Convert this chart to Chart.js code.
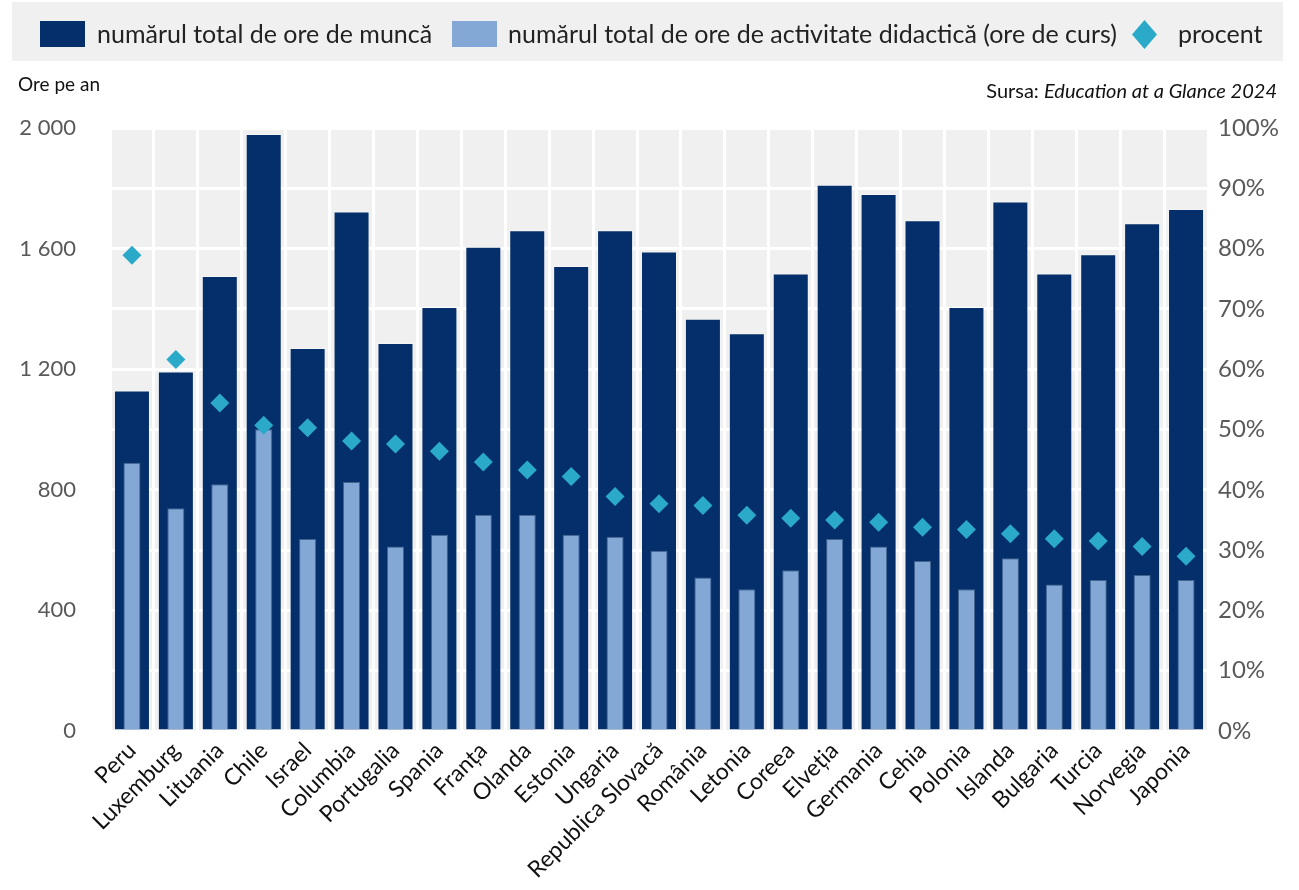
<!DOCTYPE html>
<html>
<head>
<meta charset="utf-8">
<script src="https://cdn.jsdelivr.net/npm/chart.js@4.4.1/dist/chart.umd.min.js"></script>
<style>
  html, body { margin: 0; padding: 0; background: #fff; }
  body { width: 1299px; height: 890px; position: relative; overflow: hidden; font-family: Lato, "Open Sans", sans-serif; }
  #legend { position: absolute; left: 12px; top: 2px; width: 1271px; height: 59px; background: #f0f0f0; }
  .sw { position: absolute; top: 19px; width: 45px; height: 26px; }
  .dia { position: absolute; top: 18px; width: 25px; height: 29px; clip-path: polygon(50% 0, 100% 50%, 50% 100%, 0 50%); }
  .txt { position: absolute; top: 0; height: 63px; line-height: 63px; font-size: 25px; color: #222; white-space: nowrap; }
  #unit { position: absolute; left: 18px; top: 72px; font-size: 19px; color: #111; }
  #src { position: absolute; right: 22px; top: 78px; font-size: 20px; color: #111; }
  #wrap { position: absolute; left: 0; top: 0; width: 1299px; height: 890px; }
</style>
</head>
<body>
<div id="wrap"><canvas id="c" width="1299" height="890"></canvas></div>
<div id="legend"></div>
<div id="unit">Ore pe an</div>
<div id="src">Sursa: <i>Education at a Glance 2024</i></div>
<script>
const categories = ["Peru","Luxemburg","Lituania","Chile","Israel","Columbia","Portugalia","Spania","Franța","Olanda","Estonia","Ungaria","Republica Slovacă","România","Letonia","Coreea","Elveția","Germania","Cehia","Polonia","Islanda","Bulgaria","Turcia","Norvegia","Japonia"];
const totalHours    = [1129,1192,1509,1980,1270,1723,1287,1406,1606,1661,1542,1661,1590,1367,1319,1517,1812,1781,1694,1406,1756,1517,1581,1684,1731];
const teachingHours = [890,739,818,1001,637,826,612,651,717,717,651,644,598,509,470,533,637,612,564,470,573,486,501,517,501];
const percentShare  = [78.9,61.6,54.4,50.7,50.3,48.1,47.6,46.4,44.6,43.3,42.2,38.9,37.7,37.4,35.8,35.3,35.0,34.6,33.8,33.4,32.7,31.9,31.5,30.6,29.0];
const seriesLabels  = ["numărul total de ore de muncă","numărul total de ore de activitate didactică (ore de curs)","procent"];
const leftTickStep = 400;

const C_DARK = "#042f6a", C_LIGHT = "#84a8d6", C_DIA = "#2aa9c9";

// HTML legend (positions relative to legend box, left offset 12)
const lg = document.getElementById("legend");
const legendItems = [
  { cls: "sw",  color: C_DARK,  markX: 40,   textX: 97 },
  { cls: "sw",  color: C_LIGHT, markX: 452,  textX: 508 },
  { cls: "dia", color: C_DIA,   markX: 1132, textX: 1178 }
];
legendItems.forEach((d, i) => {
  const m = document.createElement("div");
  m.className = d.cls; m.style.left = (d.markX - 12) + "px"; m.style.background = d.color;
  const t = document.createElement("div");
  t.className = "txt"; t.style.left = (d.textX - 12) + "px"; t.textContent = seriesLabels[i];
  lg.appendChild(m); lg.appendChild(t);
});

const bgPlugin = {
  id: "bg",
  beforeDraw(chart) {
    const {ctx, chartArea:a} = chart;
    ctx.save(); ctx.fillStyle = "#f0f0f0";
    ctx.fillRect(a.left, a.top, a.right - a.left, a.bottom - a.top);
    ctx.restore();
  }
};

new Chart(document.getElementById("c"), {
  data: {
    labels: categories,
    datasets: [
      { type: "line", label: seriesLabels[2], data: percentShare, yAxisID: "y1", showLine: false,
        pointStyle: "rectRot", pointRadius: 9.5, pointHoverRadius: 9.5, pointBackgroundColor: C_DIA, pointBorderWidth: 0, borderColor: C_DIA, order: 0 },
      { type: "bar", label: seriesLabels[1], data: teachingHours, yAxisID: "y", backgroundColor: C_LIGHT,
        borderColor: "rgba(255,255,255,0.25)", borderWidth: 1, barPercentage: 0.39, categoryPercentage: 1, grouped: false, order: 1 },
      { type: "bar", label: seriesLabels[0], data: totalHours, yAxisID: "y", backgroundColor: C_DARK,
        borderColor: "rgba(255,255,255,0.25)", borderWidth: 1, barPercentage: 0.82, categoryPercentage: 1, grouped: false, order: 2 }
    ]
  },
  options: {
    responsive: false, animation: false,
    layout: { padding: { top: 128, left: 0, right: 0, bottom: 0 } },
    plugins: { legend: { display: false }, tooltip: { enabled: false } },
    scales: {
      x: {
        offset: true,
        grid: { offset: true, color: "#ffffff", lineWidth: 3, drawTicks: false },
        border: { display: false },
        ticks: { minRotation: 45, maxRotation: 45, autoSkip: false, color: "#111", padding: 6,
                 font: { family: "Lato", size: 23 } },
        afterFit(s) { s.height = 890 - 731; }
      },
      y: {
        position: "left", min: 0, max: 2000,
        grid: { color: "#ffffff", lineWidth: 3, drawTicks: false },
        border: { display: false },
        ticks: { stepSize: 200, color: "#595959", padding: 34, font: { family: "Lato", size: 22 },
          callback: v => (v % leftTickStep === 0) ? String(v).replace(/\B(?=(\d{3})+(?!\d))/g, " ") : "" },
        afterFit(s) { s.width = 110; }
      },
      y1: {
        position: "right", min: 0, max: 100,
        grid: { display: false, drawTicks: false },
        border: { display: false },
        ticks: { stepSize: 10, color: "#595959", padding: 10, font: { family: "Lato", size: 24 }, callback: v => v + "%" },
        afterFit(s) { s.width = 1299 - 1208; }
      }
    }
  },
  plugins: [bgPlugin]
});
</script>
</body>
</html>
